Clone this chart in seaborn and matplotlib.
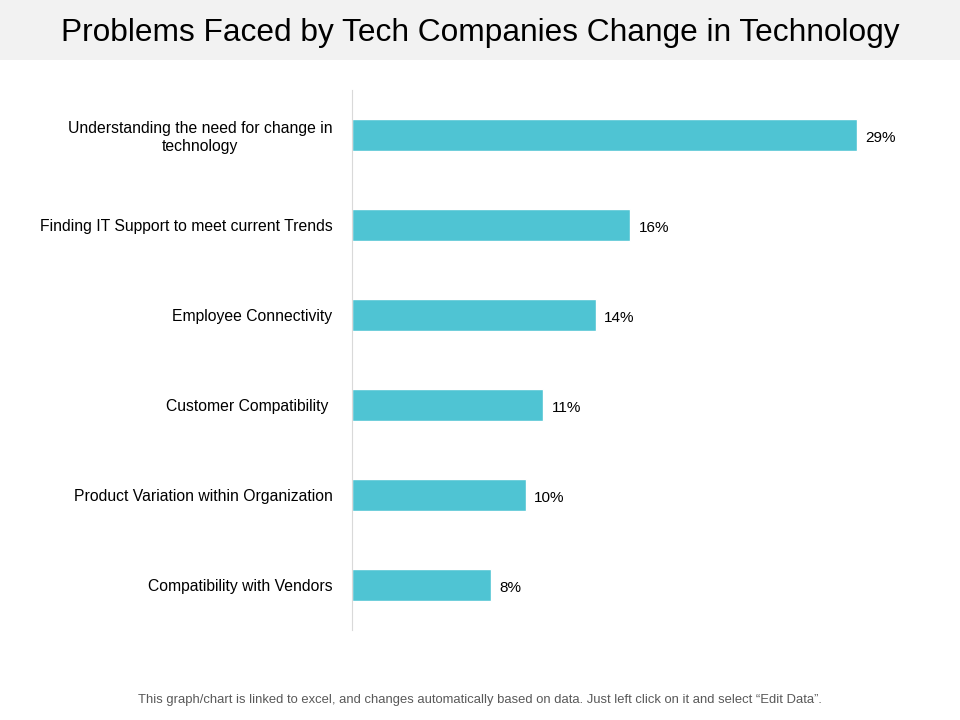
import pandas as pd
import matplotlib
matplotlib.use("Agg")
import matplotlib.pyplot as plt
import seaborn as sns
from matplotlib.patches import Rectangle

categories = [
    "Understanding the need for change in\ntechnology",
    "Finding IT Support to meet current Trends",
    "Employee Connectivity",
    "Customer Compatibility ",
    "Product Variation within Organization",
    "Compatibility with Vendors",
]
values = [29, 16, 14, 11, 10, 8]

title = "Problems Faced by Tech Companies Change in Technology"
footer = ("This graph/chart is linked to excel, and changes automatically based on data. "
          "Just left click on it and select \u201cEdit Data\u201d.")

df = pd.DataFrame({"problem": categories, "share": values})

sns.set_theme(style="white")
plt.rcParams["font.family"] = ["Liberation Sans", "DejaVu Sans"]

fig = plt.figure(figsize=(9.6, 7.2), dpi=100)

# grey title band
fig.patches.append(Rectangle((0, 1 - 60 / 720), 1, 60 / 720, transform=fig.transFigure,
                             facecolor="#F2F2F2", edgecolor="none", zorder=0))
fig.text(0.5, 1 - 33 / 720, title, ha="center", va="center", fontsize=22.8, color="black")

ax = fig.add_axes([352 / 960, 90 / 720, 548 / 960, 540 / 720])
sns.barplot(data=df, x="share", y="problem", orient="h", color="#4FC4D3",
            width=0.36, saturation=1, ax=ax)

ax.set_xlim(0, 31.5)
ax.set_ylim(5.5, -0.5)
ax.set_xlabel("")
ax.set_ylabel("")
ax.set_xticks([])
for side in ["top", "right", "bottom"]:
    ax.spines[side].set_visible(False)
ax.spines["left"].set_color("#D9D9D9")
ax.spines["left"].set_linewidth(0.8)
ax.tick_params(axis="y", length=0, pad=14, labelsize=11.3, labelcolor="black")
for lbl in ax.get_yticklabels():
    lbl.set_multialignment("center")

labels = ax.bar_label(ax.containers[0], labels=[f"{v}%" for v in values],
                      padding=6, fontsize=11, color="black")
for t in labels:
    t.xyann = (6, -2)  # sit a touch below bar centre, as in the original

fig.text(0.5, 1 - 700 / 720, footer, ha="center", va="center", fontsize=9.4, color="#595959")

fig.savefig("out.png", dpi=100)
